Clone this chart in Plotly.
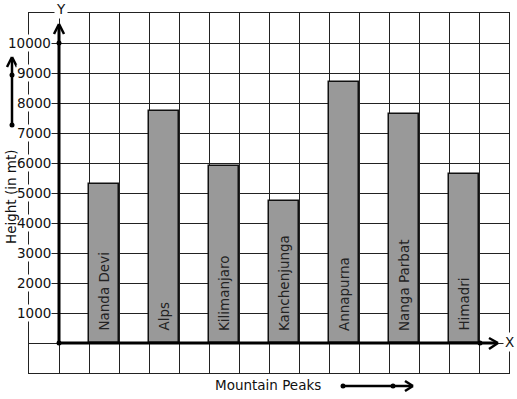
import plotly.graph_objects as go

peaks = ["Nanda Devi", "Alps", "Kilimanjaro", "Kanchenjunga", "Annapurna", "Nanga Parbat", "Himadri"]
heights = [5300, 7750, 5900, 4750, 8700, 7650, 5650]
positions = [1.5, 3.5, 5.5, 7.5, 9.5, 11.5, 13.5]
y_ticks = [1000, 2000, 3000, 4000, 5000, 6000, 7000, 8000, 9000, 10000]

W, H = 517, 399
L, R, T, B = 29, 509, 13, 373
FONT = "DejaVu Sans"
FS = 13.5

def px(x):
    return (x - L) / (R - L)

def py(y):
    return (B - y) / (B - T)

fig = go.Figure()
fig.add_trace(go.Bar(
    x=positions, y=heights, width=1,
    marker=dict(color="#999999", line=dict(color="#111111", width=1.5)),
    hoverinfo="skip",
))

shapes = []
def line(x0, y0, x1, y1, w=2.5):
    shapes.append(dict(type="line", xref="paper", yref="paper", x0=px(x0), y0=py(y0),
                       x1=px(x1), y1=py(y1), line=dict(color="#000", width=w), layer="above"))

def dot(x, y, r=2.5):
    shapes.append(dict(type="circle", xref="paper", yref="paper", x0=px(x - r), x1=px(x + r),
                       y0=py(y - r), y1=py(y + r), fillcolor="#000", line=dict(color="#000", width=0),
                       layer="above"))

# axes
line(59, 343, 496, 343, 3)
line(59, 343, 59, 26, 3)
line(59, 24, 54, 34, 2.5); line(59, 24, 64, 34, 2.5)
line(498, 343, 489, 338, 2.5); line(498, 343, 489, 349, 2.5)
dot(59, 343); dot(59, 43); dot(480, 343)
# left decorative arrow
line(12, 125, 12, 59, 2.5)
line(12, 57, 7, 67, 2.5); line(12, 57, 17, 67, 2.5)
dot(12, 125); dot(12, 75)
# bottom decorative arrow
line(343, 386, 411, 386, 2.5)
line(413, 386, 405, 381, 2.5); line(413, 386, 405, 391, 2.5)
dot(343, 386); dot(393, 386)

ann = []
for v in y_ticks:
    ann.append(dict(x=-0.23, y=v, xref="x", yref="y", text=str(v), showarrow=False,
                    xanchor="right", yanchor="middle", bgcolor="white",
                    font=dict(family=FONT, size=FS, color="#111"), borderpad=0))
for name, xc in zip(peaks, positions):
    ann.append(dict(x=xc, y=330, xref="x", yref="y", text=name, showarrow=False,
                    textangle=-90, xanchor="center", yanchor="bottom",
                    font=dict(family=FONT, size=FS, color="#222")))
ann.append(dict(x=px(61), y=py(9), xref="paper", yref="paper", text="Y", showarrow=False,
                xanchor="center", yanchor="middle",
                bgcolor="white", font=dict(family=FONT, size=FS, color="#111")))
ann.append(dict(x=px(509), y=py(342), xref="paper", yref="paper", text="X", showarrow=False,
                xanchor="center", yanchor="middle",
                bgcolor="white", font=dict(family=FONT, size=FS, color="#111")))
ann.append(dict(x=px(268), y=py(385), xref="paper", yref="paper", text="Mountain Peaks",
                xanchor="center", yanchor="middle",
                showarrow=False, font=dict(family=FONT, size=FS, color="#111")))
ann.append(dict(x=px(11), y=py(197), xref="paper", yref="paper", text="Height (in mt)",
                xanchor="center", yanchor="middle",
                showarrow=False, textangle=-90, font=dict(family=FONT, size=FS, color="#111")))

fig.update_layout(
    width=W, height=H, margin=dict(l=L, r=W - R, t=T, b=H - B),
    paper_bgcolor="white", plot_bgcolor="white", showlegend=False,
    shapes=shapes, annotations=ann, bargap=0,
    xaxis=dict(range=[-1, 15], dtick=1, tick0=0, showgrid=True, gridcolor="#222", gridwidth=1,
               showticklabels=False, ticks="", zeroline=False, showline=True, mirror=True,
               linecolor="#222", linewidth=1, fixedrange=True),
    yaxis=dict(range=[-1000, 11000], dtick=1000, tick0=0, showgrid=True, gridcolor="#222",
               gridwidth=1, showticklabels=False, ticks="", zeroline=False, showline=True,
               mirror=True, linecolor="#222", linewidth=1, fixedrange=True),
)
fig.write_html("out.html", config={"displayModeBar": False})
